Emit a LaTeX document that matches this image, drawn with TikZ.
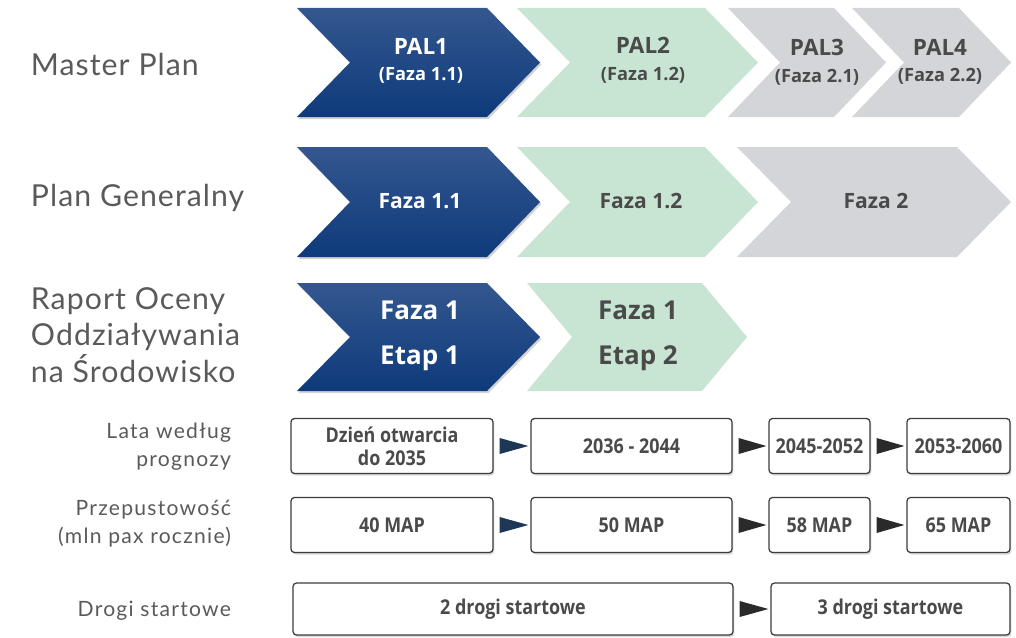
\documentclass[tikz,border=0pt]{standalone}
\usepackage{fontspec}
\setmainfont{Lato}
\newfontfamily\biglabfont[LetterSpace=3.5]{Lato}
\newfontfamily\smalllabfont[LetterSpace=6]{Lato}
\newfontfamily\chevfont{Open Sans}
\newfontfamily\boxfont[FakeStretch=0.88]{Open Sans}
\usetikzlibrary{shadows,calc}
\definecolor{navyT}{HTML}{34578F}
\definecolor{navyB}{HTML}{0E3A7B}
\definecolor{mint}{HTML}{C8E5D3}
\definecolor{lgray}{HTML}{D3D5D9}
\definecolor{labgray}{HTML}{5A5A5A}
\definecolor{txtgray}{HTML}{4A4A4A}
\definecolor{boxline}{HTML}{3C3C3C}
\definecolor{trinavy}{HTML}{1E3756}
\definecolor{tridark}{HTML}{2A2A2A}
\tikzset{
  navychev/.style={top color=navyT, bottom color=navyB, drop shadow={opacity=0.35, shadow xshift=1pt, shadow yshift=-1.5pt}},
  mintchev/.style={fill=mint},
  graychev/.style={fill=lgray},
  whitetxt/.style={text=white, font=\chevfont\bfseries, align=center},
  darktxt/.style={text=txtgray, font=\chevfont\bfseries, align=center},
  paltxt/.style={font=\chevfont\bfseries\fontsize{16}{19}\selectfont},
  rowtwo/.style={font=\chevfont\bfseries\fontsize{15}{18}\selectfont},
  rowthree/.style={font=\chevfont\bfseries\fontsize{18.5}{32}\selectfont},
  biglabel/.style={text=labgray, font=\biglabfont\fontsize{21.5}{26}\selectfont, anchor=west, align=left},
  smalllabel/.style={text=labgray, font=\smalllabfont\fontsize{15}{20}\selectfont, anchor=east, align=right},
  infobox/.style={draw=boxline, line width=0.9pt, fill=white, rounded corners=2.5pt, align=center,
    text=txtgray, font=\boxfont\bfseries\fontsize{14.5}{16.5}\selectfont, inner sep=0pt,
    drop shadow={opacity=0.3, shadow xshift=1pt, shadow yshift=-1.5pt}},
  trinav/.style={fill=trinavy},
  tridk/.style={fill=tridark},
}
\newcommand\chev[6]{%
  \path[#6] (#1,#3) -- ({#2-#5},#3) -- (#2,{(#3+#4)/2}) -- ({#2-#5},#4) -- (#1,#4) -- ({#1+#5},{(#3+#4)/2}) -- cycle;}
\newcommand\subl[1]{{\fontsize{13}{19}\selectfont #1}}
\begin{document}
\begin{tikzpicture}[x=0.025cm, y=-0.025cm]
\useasboundingbox (0,0) rectangle (1016,637);
% left labels
\node[biglabel] (lmp) at (26,64) {Master Plan};
\node[biglabel] (lpg) at (26,198) {Plan Generalny};
\node[biglabel] (lro) at (26,335) {Raport Oceny\\Oddziaływania\\na Środowisko};
\node[smalllabel] (llw) at (236,447) {Lata według\\prognozy};
\node[smalllabel] (lpp) at (236,524) {Przepustowość\\(mln pax rocznie)};
\node[smalllabel] (lds) at (236,611) {Drogi startowe};
% row 1
\chev{297}{540}{8}{117}{53}{navychev}
\chev{517}{758}{8}{117}{53}{mintchev}
\chev{728}{886}{8}{117}{52}{graychev}
\chev{852}{1011}{8}{117}{52}{graychev}
\node[whitetxt, paltxt] (pal1) at (421,61) {PAL1\\\subl{(Faza 1.1)}};
\node[darktxt, paltxt] (pal2) at (643,60) {PAL2\\\subl{(Faza 1.2)}};
\node[darktxt, paltxt] (pal3) at (817,62) {PAL3\\\subl{(Faza 2.1)}};
\node[darktxt, paltxt] (pal4) at (940,62) {PAL4\\\subl{(Faza 2.2)}};
% row 2
\chev{297}{540}{147}{257}{53}{navychev}
\chev{517}{758}{147}{257}{53}{mintchev}
\chev{737}{1011}{147}{257}{54}{graychev}
\node[whitetxt, rowtwo] (f11) at (420,201) {Faza 1.1};
\node[darktxt, rowtwo] (f12) at (641,201) {Faza 1.2};
\node[darktxt, rowtwo] (f2) at (876,201) {Faza 2};
% row 3
\chev{297}{540}{283}{391}{53}{navychev}
\chev{527}{747}{283}{391}{45}{mintchev}
\node[whitetxt, rowthree] (e1) at (420,336) {Faza 1\\Etap 1};
\node[darktxt, rowthree] (e2) at (638,336) {Faza 1\\Etap 2};
% boxes
\node[infobox, minimum width=202*0.025cm, minimum height=55*0.025cm] (l1) at (392,446) {Dzień otwarcia\\do 2035};
\node[infobox, minimum width=201*0.025cm, minimum height=55*0.025cm] (l2) at (631.5,446) {2036 - 2044};
\node[infobox, minimum width=101*0.025cm, minimum height=55*0.025cm] (l3) at (819.5,446) {2045-2052};
\node[infobox, minimum width=103*0.025cm, minimum height=55*0.025cm] (l4) at (958.5,446) {2053-2060};
\node[infobox, minimum width=202*0.025cm, minimum height=55*0.025cm] (p1) at (392,525) {40 MAP};
\node[infobox, minimum width=201*0.025cm, minimum height=55*0.025cm] (p2) at (631.5,525) {50 MAP};
\node[infobox, minimum width=101*0.025cm, minimum height=55*0.025cm] (p3) at (819.5,525) {58 MAP};
\node[infobox, minimum width=103*0.025cm, minimum height=55*0.025cm] (p4) at (958.5,525) {65 MAP};
\node[infobox, minimum width=440*0.025cm, minimum height=52*0.025cm] (d1) at (513,609) {2 drogi startowe};
\node[infobox, minimum width=239*0.025cm, minimum height=52*0.025cm] (d2) at (890.5,609) {3 drogi startowe};
% connector triangles
\foreach \a/\b/\s in {l1/l2/trinav, l2/l3/tridk, l3/l4/tridk, p1/p2/trinav, p2/p3/tridk, p3/p4/tridk, d1/d2/tridk}{
  \fill[\s] ($(\a.east)+(6,-8)$) -- ($(\b.west)+(-2,0)$) -- ($(\a.east)+(6,8)$) -- cycle;
}
\end{tikzpicture}
\end{document}
